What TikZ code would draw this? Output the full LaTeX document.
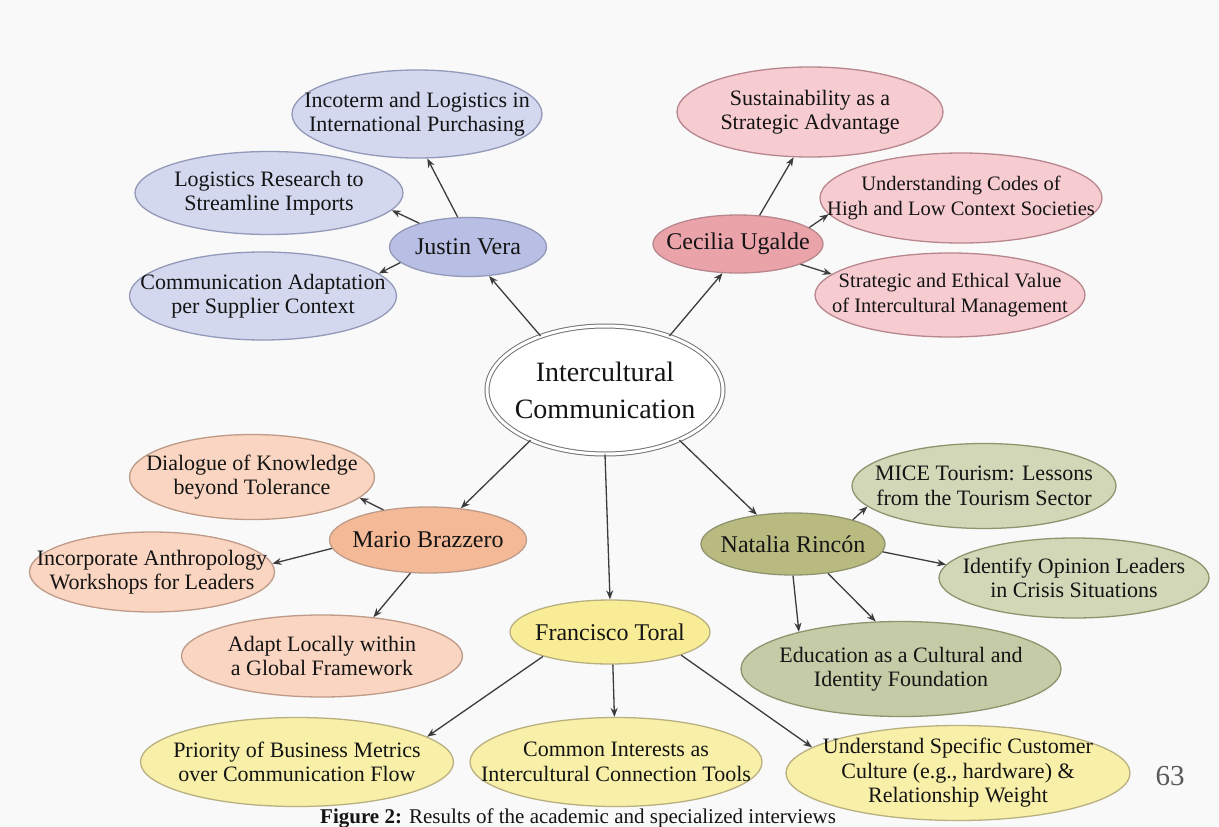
\documentclass[tikz,border=0pt]{standalone}
\usepackage{fontspec}
\setmainfont{Liberation Serif}
\usetikzlibrary{arrows.meta,shapes.geometric}
\definecolor{bgc}{HTML}{F9F9F9}
\definecolor{tc}{HTML}{141414}
\definecolor{arrc}{HTML}{3C3C3C}
\definecolor{bL}{HTML}{D3D8EF}\definecolor{bP}{HTML}{B9BFE4}\definecolor{bD}{HTML}{9399B8}
\definecolor{pL}{HTML}{F6CCD1}\definecolor{pP}{HTML}{EBA3AA}\definecolor{pD}{HTML}{B8868D}
\definecolor{oL}{HTML}{FAD5C1}\definecolor{oP}{HTML}{F4BA98}\definecolor{oD}{HTML}{BE9A88}
\definecolor{yL}{HTML}{F8F0A8}\definecolor{yP}{HTML}{F8EC96}\definecolor{yD}{HTML}{B8B080}
\definecolor{gL}{HTML}{D2D7B8}\definecolor{gP}{HTML}{B8BA80}\definecolor{gE}{HTML}{C4CBA6}\definecolor{gD}{HTML}{90946E}
\tikzset{
  bub/.style 2 args={shape=ellipse, fill=#1, draw=#2, line width=1.3pt, inner sep=0pt},
  blueleaf/.style={bub={bL}{bD}}, blueperson/.style={bub={bP}{bD}},
  pinkleaf/.style={bub={pL}{pD}}, pinkperson/.style={bub={pP}{pD}},
  orangeleaf/.style={bub={oL}{oD}}, orangeperson/.style={bub={oP}{oD}},
  yellowleaf/.style={bub={yL}{yD}}, yellowperson/.style={bub={yP}{yD}},
  greenleaf/.style={bub={gL}{gD}}, greenperson/.style={bub={gP}{gD}}, greenedu/.style={bub={gE}{gD}},
  centerbub/.style={shape=ellipse, fill=white, draw=black!55, line width=1pt, double=white, double distance=3pt, inner sep=0pt},
  leaftxt/.style={align=center, inner sep=0pt, text=tc, font=\fontsize{22}{24.5}\selectfont},
  leaftxtS/.style={align=center, inner sep=0pt, text=tc, font=\fontsize{20.5}{24.5}\selectfont},
  persontxt/.style={align=center, inner sep=0pt, text=tc, font=\fontsize{24}{28}\selectfont},
  centertxt/.style={align=center, inner sep=0pt, text=tc, font=\fontsize{28}{37}\selectfont},
  arr/.style={draw=arrc, line width=1.3pt, -{Stealth[length=9pt,width=7pt]}},
}
\newcommand\bub[8]{%
  \node[#2, minimum width=#5pt, minimum height=#6pt] (#1) at (#3,#4) {};
  \node[#8] (#1-t) at (#1.center) {#7};}
\begin{document}
\begin{tikzpicture}[x=1pt,y=-1pt]
\fill[bgc] (0,0) rectangle (1219,827);
\useasboundingbox (0,0) rectangle (1219,827);
\clip (0,0) rectangle (1219,827);
% centre
\bub{C}{centerbub}{605}{390}{236}{128}{Intercultural\\Communication}{centertxt}
% Justin Vera
\bub{JV}{blueperson}{468}{247}{157}{59}{Justin Vera}{persontxt}
\bub{IN}{blueleaf}{417}{114}{250}{88}{Incoterm and Logistics in\\International Purchasing}{leaftxt}
\bub{LR}{blueleaf}{269}{193}{268}{83}{Logistics Research to\\Streamline Imports}{leaftxt}
\bub{CA}{blueleaf}{263}{296}{267}{88}{Communication Adaptation\\per Supplier Context}{leaftxt}
% Cecilia Ugalde
\bub{CU}{pinkperson}{738}{244}{170}{58}{Cecilia Ugalde}{persontxt}
\bub{SU}{pinkleaf}{810}{112}{266}{90}{Sustainability as a\\Strategic Advantage}{leaftxt}
\bub{UC}{pinkleaf}{961}{198}{282}{90}{Understanding Codes of\\High and Low Context Societies}{leaftxtS}
\bub{SE}{pinkleaf}{950}{295}{270}{84}{Strategic and Ethical Value\\of Intercultural Management}{leaftxtS}
% Mario Brazzero
\bub{MB}{orangeperson}{428}{540}{197}{66}{Mario Brazzero}{persontxt}
\bub{DK}{orangeleaf}{252}{477}{245}{85}{Dialogue of Knowledge\\beyond Tolerance}{leaftxt}
\bub{IA}{orangeleaf}{152}{572}{245}{80}{Incorporate Anthropology\\Workshops for Leaders}{leaftxt}
\bub{AL}{orangeleaf}{322}{656}{281}{82}{Adapt Locally within\\a Global Framework}{leaftxt}
% Francisco Toral
\bub{FT}{yellowperson}{610}{632}{200}{64}{Francisco Toral}{persontxt}
\bub{PB}{yellowleaf}{297}{762}{313}{89}{Priority of Business Metrics\\over Communication Flow}{leaftxt}
\bub{CI}{yellowleaf}{616}{762}{292}{89}{Common Interests as\\Intercultural Connection Tools}{leaftxt}
\bub{US}{yellowleaf}{958}{773}{344}{95}{Understand Specific Customer\\Culture (e.g., hardware) \&\\Relationship Weight}{leaftxt}
% Natalia Rincon
\bub{NR}{greenperson}{793}{544}{184}{62}{Natalia Rincón}{persontxt}
\bub{MT}{greenleaf}{984}{486}{264}{85}{MICE Tourism: Lessons\\from the Tourism Sector}{leaftxt}
\bub{IO}{greenleaf}{1074}{578}{270}{80}{Identify Opinion Leaders\\in Crisis Situations}{leaftxt}
\bub{ED}{greenedu}{901}{669}{320}{95}{Education as a Cultural and\\Identity Foundation}{leaftxt}
% connectors
\draw[arr] (C.140.5) -- (JV.-54);
\draw[arr] (C.40.5) -- (CU.-118.6);
\draw[arr] (C.214) -- (MB.44);
\draw[arr] (C.270) -- (FT.90);
\draw[arr] (C.-34) -- (NR.141.5);
\draw[arr] (JV.109) -- (IN.-77);
\draw[arr] (JV.154) -- (LR.-8);
\draw[arr] (JV.193) -- (CA.11);
\draw[arr] (CU.53) -- (SU.250.5);
\draw[arr] (CU.13.6) -- (UC.187);
\draw[arr] (CU.-18.4) -- (SE.170);
\draw[arr] (MB.146) -- (DK.-11.6);
\draw[arr] (MB.185) -- (IA.4.8);
\draw[arr] (MB.-118) -- (AL.37.4);
\draw[arr] (NR.22.6) -- (MT.190.3);
\draw[arr] (NR.-5) -- (IO.174.2);
\draw[arr] (NR.-90) -- (ED.160.4);
\draw[arr] (NR.-40) -- (ED.118);
\draw[arr] (FT.200) -- (PB.11.7);
\draw[arr] (FT.-85) -- (CI.92);
\draw[arr] (FT.-18.4) -- (US.170);
% page number and caption
\node[anchor=base, inner sep=0pt, text=black!65, font=\fontsize{29}{32}\selectfont] (pg) at (1170,785) {63};
\node[anchor=base west, inner sep=0pt, text=tc, font=\fontsize{21}{24}\selectfont] (cap) at (320,823) {\textbf{Figure 2:} Results of the academic and specialized interviews};
\end{tikzpicture}
\end{document}
